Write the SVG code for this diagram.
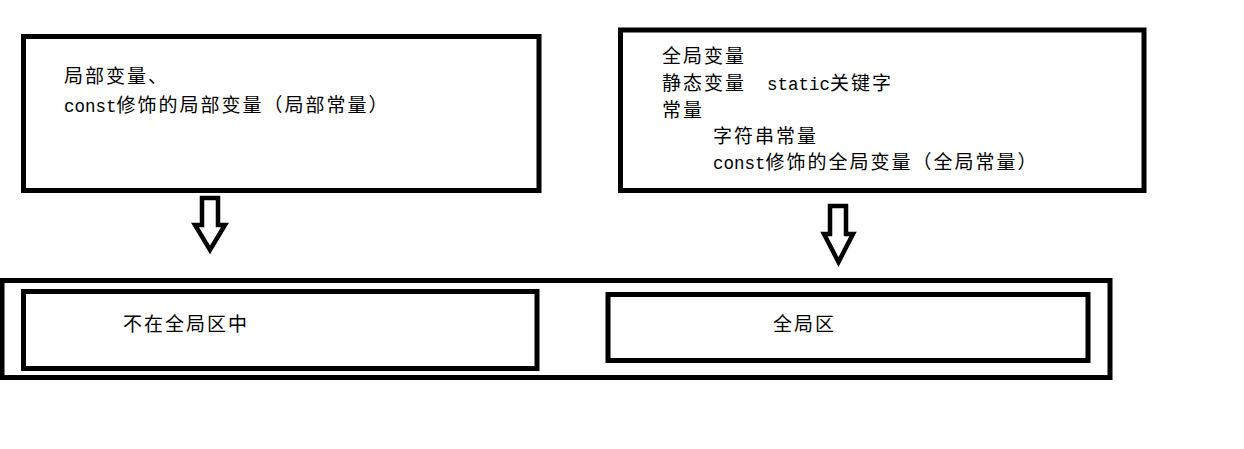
<svg xmlns="http://www.w3.org/2000/svg" width="1244" height="449" viewBox="0 0 1244 449">
  <style>
    .box { fill: #ffffff; stroke: #000000; stroke-width: 5; }
    .arrow { fill: #ffffff; stroke: #000000; stroke-width: 4.5; stroke-linejoin: miter; }
    .t { font-family: "Noto Sans CJK SC", "Noto Sans CJK JP", sans-serif; font-size: 19px; letter-spacing: 2px; fill: #000000; }
    .m { font-family: "Liberation Mono", "DejaVu Sans Mono", monospace; font-size: 17.5px; letter-spacing: 0px; }
  </style>
  <rect width="1244" height="449" fill="#ffffff"/>

  <g id="local-vars">
    <rect class="box" x="23.5" y="36.5" width="515.5" height="154"/>
    <text class="t" x="64" y="83">局部变量、</text>
    <text class="t" x="64" y="111.5"><tspan class="m">const</tspan>修饰的局部变量（局部常量）</text>
  </g>

  <g id="global-vars">
    <rect class="box" x="620.5" y="30" width="523.5" height="160.5"/>
    <text class="t" x="662" y="63">全局变量</text>
    <text class="t" x="662" y="90">静态变量<tspan class="m" x="767">static</tspan>关键字</text>
    <text class="t" x="662" y="116.5">常量</text>
    <text class="t" x="713" y="142.5">字符串常量</text>
    <text class="t" x="713" y="169"><tspan class="m">const</tspan>修饰的全局变量（全局常量）</text>
  </g>

  <g id="memory">
    <rect class="box" x="2" y="280.5" width="1108" height="97"/>
  </g>

  <g id="not-global-area">
    <rect class="box" x="23.5" y="291.5" width="513.5" height="77"/>
    <text class="t" x="123" y="331">不在全局区中</text>
  </g>

  <g id="global-area">
    <rect class="box" x="608" y="294.5" width="480" height="66"/>
    <text class="t" x="773" y="331">全局区</text>
  </g>

  <g id="connectors">
    <polygon class="arrow" points="202,198 218,198 218,225 225,225 210,250 195,225 202,225"/>
    <polygon class="arrow" points="830,206 846,206 846,234 853,234 838.5,262 824,234 830,234"/>
  </g>
</svg>
